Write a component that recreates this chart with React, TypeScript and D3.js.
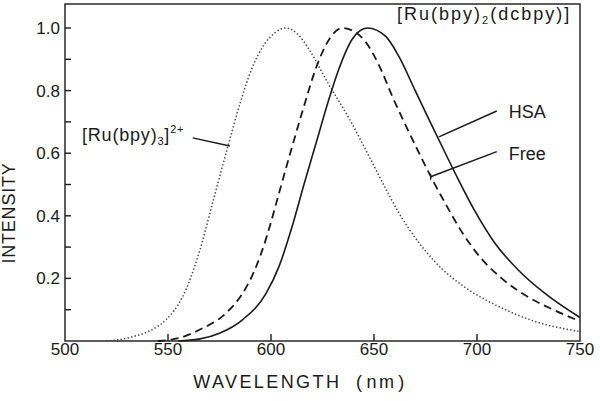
import React from "react";
import * as d3 from "d3";

const W = 600;
const H = 401;

// [Ru(bpy)3]2+ (dotted)
const rubpyWl = [520, 526, 533, 541, 549, 557, 565, 572, 579, 585, 591, 597, 602, 607, 613, 618.6, 628, 638, 647.6, 657, 662, 670, 680, 694.5, 710, 727, 750];
const rubpyI = [0.0, 0.004, 0.014, 0.032, 0.068, 0.14, 0.28, 0.45, 0.62, 0.76, 0.875, 0.95, 0.985, 1.0, 0.98, 0.93, 0.82, 0.71, 0.59, 0.47, 0.41, 0.33, 0.25, 0.17, 0.112, 0.065, 0.03];

// Free [Ru(bpy)2(dcbpy)] (dashed)
const freeWl = [545, 555.7, 565, 578, 586, 592, 598, 604, 610, 616, 622, 627, 634.7, 640, 646, 652.5, 659, 668.6, 678, 685, 692, 700, 712, 725, 738, 750];
const freeI = [0.0, 0.01, 0.035, 0.088, 0.15, 0.225, 0.335, 0.475, 0.615, 0.75, 0.875, 0.95, 1.0, 0.99, 0.955, 0.88, 0.78, 0.645, 0.52, 0.435, 0.355, 0.28, 0.2, 0.14, 0.097, 0.063];

// HSA-bound [Ru(bpy)2(dcbpy)] (solid)
const hsaWl = [555, 565, 575, 586, 597.6, 604, 610, 616, 622, 628, 633, 639.5, 646.8, 655.7, 662, 670, 678, 685, 691, 699, 709, 720, 733, 750];
const hsaI = [0.0, 0.006, 0.025, 0.067, 0.152, 0.24, 0.36, 0.5, 0.635, 0.77, 0.87, 0.965, 1.0, 0.973, 0.91, 0.8, 0.69, 0.595, 0.515, 0.415, 0.31, 0.227, 0.152, 0.075];

const xTicks = [500, 550, 600, 650, 700, 750];
const xInnerTicks = [550, 600, 650, 700];
const yTicks = [0.1, 0.2, 0.3, 0.4, 0.5, 0.6, 0.7, 0.8, 0.9, 1.0];
const yLabels = [0.2, 0.4, 0.6, 0.8, 1.0];

export default function App() {
  const x = d3.scaleLinear().domain([500, 750]).range([65, 580]);
  const y = d3.scaleLinear().domain([0, 1]).range([341, 28]);
  const top = 4;

  const line = d3
    .line<[number, number]>()
    .x((d) => x(d[0]))
    .y((d) => y(d[1]))
    .curve(d3.curveMonotoneX);

  const pts = (wl: number[], v: number[]) => wl.map((w, i) => [w, v[i]] as [number, number]);

  const font = "'Liberation Sans', Arial, Helvetica, sans-serif";
  const ink = "#1a1a1a";

  return (
    <svg width={W} height={H} style={{ position: "absolute", left: 0, top: 0, background: "#fff" }} fontFamily={font}>
      <rect x={0} y={0} width={W} height={H} fill="#fff" />
      {/* frame */}
      <rect x={x(500)} y={top} width={x(750) - x(500)} height={y(0) - top} fill="none" stroke={ink} strokeWidth={1.4} />
      {/* x ticks */}
      {xInnerTicks.map((t) => (
        <line key={"xt" + t} x1={x(t)} x2={x(t)} y1={y(0)} y2={y(0) - 7} stroke={ink} strokeWidth={1.4} />
      ))}
      {xTicks.map((t) => (
        <text key={"xl" + t} x={x(t)} y={y(0) + 14} textAnchor="middle" fontSize={17} fill={ink}>
          {t}
        </text>
      ))}
      {/* y ticks */}
      {yTicks.map((t) => (
        <line key={"yt" + t} x1={x(500)} x2={x(500) + 6} y1={y(t)} y2={y(t)} stroke={ink} strokeWidth={1.4} />
      ))}
      {yLabels.map((t) => (
        <text key={"yl" + t} x={x(500) - 5} y={y(t) + 6} textAnchor="end" fontSize={17} fill={ink}>
          {t.toFixed(1)}
        </text>
      ))}
      {/* axis titles */}
      <text x={300} y={388} textAnchor="middle" fontSize={18} letterSpacing={2.4} fill={ink}>
        WAVELENGTH{"\u00a0\u00a0"}(<tspan dx={2}>nm</tspan><tspan dx={2}>)</tspan>
      </text>
      <text
        transform={`translate(15, ${213}) rotate(-90)`}
        textAnchor="middle"
        fontSize={18}
        letterSpacing={0.8}
        fill={ink}
      >
        INTENSITY
      </text>
      {/* curves */}
      <path d={line(pts(rubpyWl, rubpyI)) || ""} fill="none" stroke="#444" strokeWidth={1.5} strokeDasharray="1.4,2.2" />
      <path d={line(pts(freeWl, freeI)) || ""} fill="none" stroke={ink} strokeWidth={1.8} strokeDasharray="8,5" />
      <path d={line(pts(hsaWl, hsaI)) || ""} fill="none" stroke={ink} strokeWidth={1.6} />
      {/* annotations */}
      <text x={397} y={20} fontSize={18} letterSpacing={2.0} fill={ink}>
        [Ru(bpy)<tspan fontSize={11} dy={4}>2</tspan>
        <tspan dy={-4}>(dcbpy)]</tspan>
      </text>
      <line x1={x(681.5)} y1={y(0.652)} x2={x(709.6)} y2={y(0.735)} stroke={ink} strokeWidth={1.5} />
      <text x={x(715.4)} y={y(0.732) + 6.5} fontSize={18} fill={ink}>
        HSA
      </text>
      <line x1={x(677.5)} y1={y(0.525)} x2={x(709.6)} y2={y(0.605)} stroke={ink} strokeWidth={1.5} />
      <line x1={x(677.5)} y1={y(0.525) - 3} x2={x(677.5)} y2={y(0.525) + 3} stroke={ink} strokeWidth={1.3} />
      <text x={x(715.4)} y={y(0.6) + 6.5} fontSize={18} fill={ink}>
        Free
      </text>
      <text x={82} y={141} fontSize={18} letterSpacing={0.8} fill={ink}>
        [Ru(bpy)<tspan fontSize={11} dy={4}>3</tspan>
        <tspan dy={-4}>]</tspan>
        <tspan fontSize={11} dy={-8}>2+</tspan>
      </text>
      <line x1={x(562)} y1={y(0.649)} x2={x(580)} y2={y(0.623)} stroke={ink} strokeWidth={1.5} />
    </svg>
  );
}
